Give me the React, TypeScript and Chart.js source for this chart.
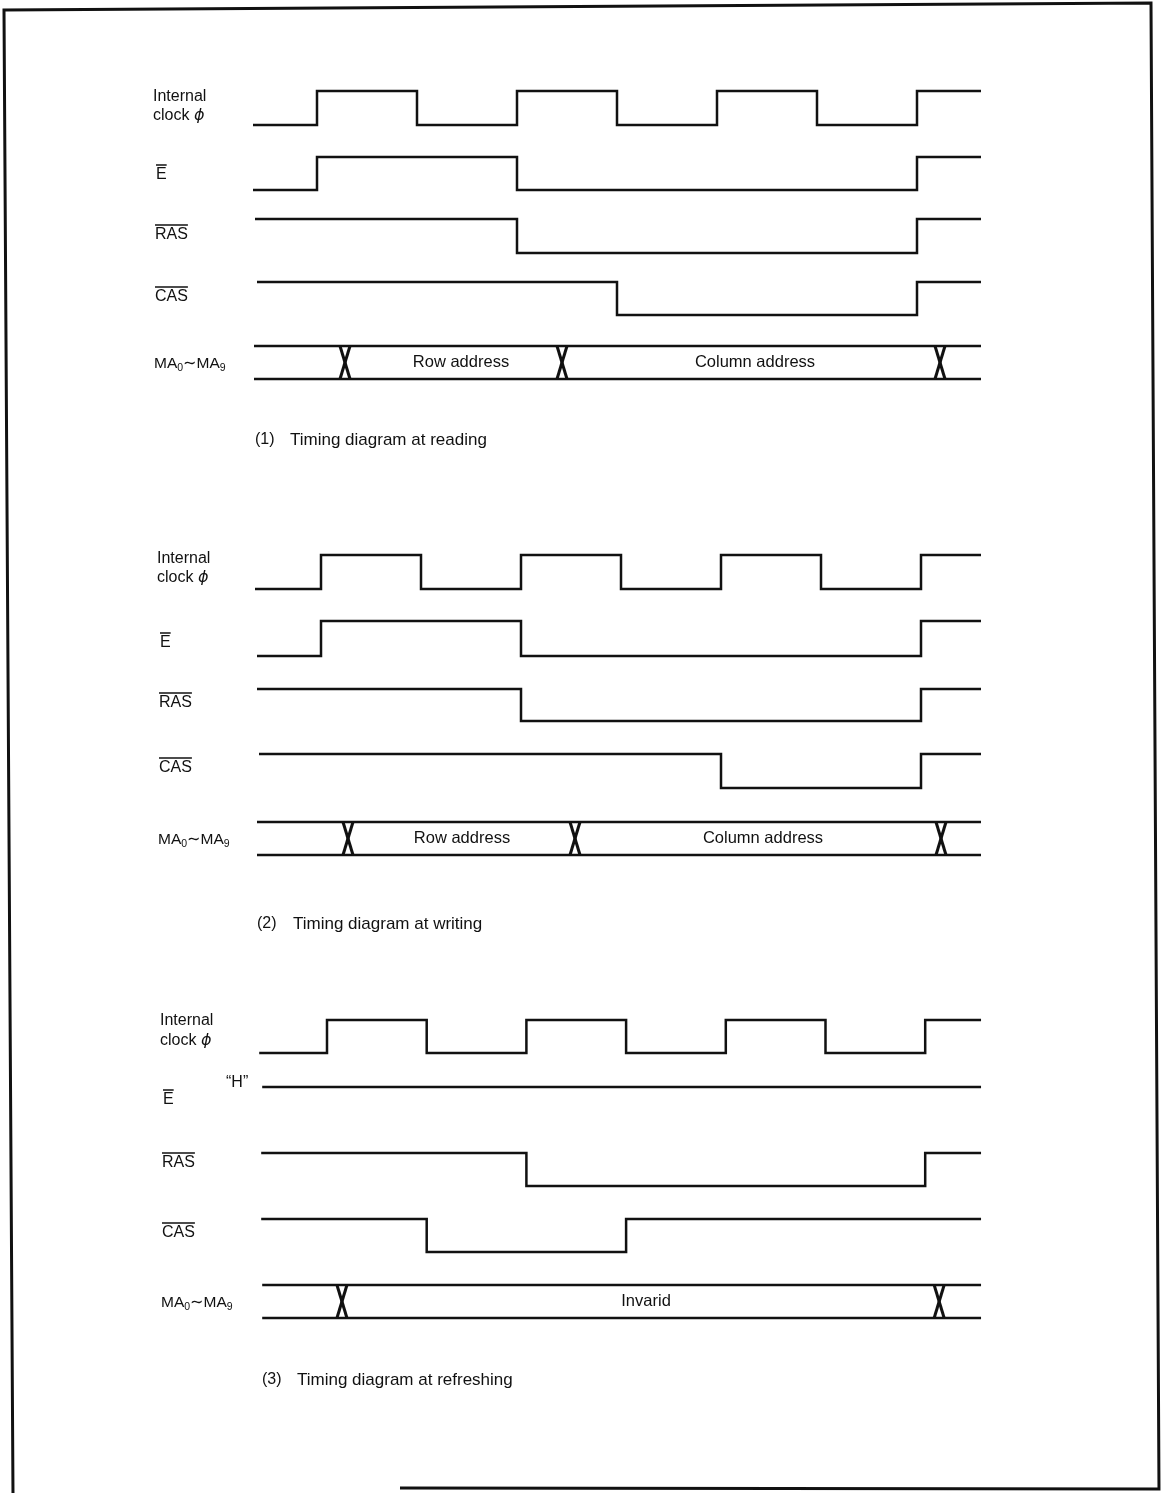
import React, { useEffect, useRef } from "react";
import { Chart, registerables } from "chart.js";
Chart.register(...registerables);

// ---------- DATA (time unit = half clock period, first clock rise at t = 1) ----------
const diagramNumbers = ["(1)", "(2)", "(3)"];
const diagramTitles = ["Timing diagram at reading", "Timing diagram at writing", "Timing diagram at refreshing"];
const signalNames = ["clock", "E", "RAS", "CAS", "MA"];

// Internal clock phi: starts low, toggles at each edge
const clockInit = 0;
const clockEdges = [1, 2, 3, 4, 5, 6, 7];

// (1) reading
const readE = { init: 0, edges: [1, 3, 7] };
const readRAS = { init: 1, edges: [3, 7] };
const readCAS = { init: 1, edges: [4, 7] };
const readBusCross = [1.28, 3.45, 7.23];
const readBusText = ["Row address", "Column address"];
const readBusTextT = [2.44, 5.38];
const readStart = [0.36, 0.36, 0.38, 0.4, 0.37];
const readEnd = 7.64;

// (2) writing
const writeE = { init: 0, edges: [1, 3, 7] };
const writeRAS = { init: 1, edges: [3, 7] };
const writeCAS = { init: 1, edges: [5, 7] };
const writeBusCross = [1.27, 3.54, 7.2];
const writeBusText = ["Row address", "Column address"];
const writeBusTextT = [2.41, 5.42];
const writeStart = [0.34, 0.36, 0.36, 0.38, 0.36];
const writeEnd = 7.6;

// (3) refreshing
const refreshE = { init: 1, edges: [] as number[] }; // held "H"
const refreshRAS = { init: 1, edges: [3, 7] };
const refreshCAS = { init: 1, edges: [2, 4] };
const refreshBusCross = [1.15, 7.14];
const refreshBusText = ["Invarid"];
const refreshBusTextT = [4.2];
const refreshStart = [0.32, 0.35, 0.34, 0.34, 0.35];
const refreshEnd = 7.56;

// ---------- LAYOUT ----------
const W = 1163;
const H = 1493;
// per diagram: pixel of first clock rise, pixels per half period
const xOrigin = [317, 321, 327];
const halfPeriodPx = [100, 100, 99.7];
// per diagram rows: [highY, lowY]
const rowLevels = [
  [[91, 125], [157, 190], [219, 253], [282, 315], [346, 379]],
  [[555, 589], [621, 656], [689, 721], [754, 788], [822, 855]],
  [[1020, 1053], [1087, 1087], [1153, 1186], [1219, 1252], [1285, 1318]],
];
const labelX = [153, 157, 160];
const labelY = [
  [97, 116, 175, 235, 297, 364],
  [559, 578, 643, 703, 768, 840],
  [1021, 1041, 1100, 1163, 1233, 1303],
];
const captionY = [440, 924, 1380];
const captionNumX = [255, 257, 262];
const captionTitleX = [290, 293, 297];

const FONT = "'Liberation Sans', Arial, Helvetica, sans-serif";
const INK = "#111";

function stepPoints(init: number, edges: number[], start: number, end: number, hi: number, lo: number) {
  const lvl = (v: number) => (v ? hi : lo);
  let cur = init;
  const pts = [{ x: start, y: lvl(cur) }];
  for (const e of edges) {
    pts.push({ x: e, y: lvl(cur) });
    cur = 1 - cur;
    pts.push({ x: e, y: lvl(cur) });
  }
  pts.push({ x: end, y: lvl(cur) });
  return pts;
}

const diagrams = [
  { sigs: [readE, readRAS, readCAS], cross: readBusCross, text: readBusText, textT: readBusTextT, start: readStart, end: readEnd },
  { sigs: [writeE, writeRAS, writeCAS], cross: writeBusCross, text: writeBusText, textT: writeBusTextT, start: writeStart, end: writeEnd },
  { sigs: [refreshE, refreshRAS, refreshCAS], cross: refreshBusCross, text: refreshBusText, textT: refreshBusTextT, start: refreshStart, end: refreshEnd },
];

function buildDatasets() {
  const ds: any[] = [];
  const base = { showLine: true, pointRadius: 0, borderColor: INK, borderWidth: 2.5, fill: false, yAxisID: "y" };
  diagrams.forEach((d, di) => {
    const xa = "x" + di;
    const rl = rowLevels[di];
    ds.push({ ...base, label: `${di}-${signalNames[0]}`, xAxisID: xa, data: stepPoints(clockInit, clockEdges, d.start[0], d.end, rl[0][0], rl[0][1]) });
    d.sigs.forEach((s, si) => {
      ds.push({ ...base, label: `${di}-${signalNames[si + 1]}`, xAxisID: xa, data: stepPoints(s.init, s.edges, d.start[si + 1], d.end, rl[si + 1][0], rl[si + 1][1]) });
    });
    const [top, bot] = rl[4];
    ds.push({ ...base, label: `${di}-MA-top`, xAxisID: xa, data: [{ x: d.start[4], y: top }, { x: d.end, y: top }] });
    ds.push({ ...base, label: `${di}-MA-bot`, xAxisID: xa, data: [{ x: d.start[4], y: bot }, { x: d.end, y: bot }] });
    const dt = 5 / halfPeriodPx[di];
    d.cross.forEach((c, ci) => {
      ds.push({ ...base, borderWidth: 3, label: `${di}-X${ci}a`, xAxisID: xa, data: [{ x: c - dt, y: top }, { x: c + dt, y: bot }] });
      ds.push({ ...base, borderWidth: 3, label: `${di}-X${ci}b`, xAxisID: xa, data: [{ x: c + dt, y: top }, { x: c - dt, y: bot }] });
    });
  });
  return ds;
}

function buildScales() {
  const scales: any = {
    y: { type: "linear", display: false, reverse: true, min: 0, max: H },
  };
  xOrigin.forEach((x1, di) => {
    const hp = halfPeriodPx[di];
    const min = 1 - x1 / hp;
    scales["x" + di] = { type: "linear", display: false, min, max: min + W / hp };
  });
  return scales;
}

function overlineText(ctx: CanvasRenderingContext2D, text: string, x: number, y: number, off: number) {
  ctx.fillText(text, x, y);
  const w = ctx.measureText(text).width;
  ctx.beginPath();
  ctx.lineWidth = 1.5;
  ctx.moveTo(x, y - off);
  ctx.lineTo(x + w, y - off);
  ctx.stroke();
}

function busName(ctx: CanvasRenderingContext2D, x: number, y: number) {
  let cx = x;
  ctx.font = `15.5px ${FONT}`;
  ctx.fillText("MA", cx, y);
  cx += ctx.measureText("MA").width;
  ctx.font = `10.5px ${FONT}`;
  ctx.fillText("0", cx, y + 4);
  cx += ctx.measureText("0").width;
  ctx.font = `16px 'DejaVu Sans', ${FONT}`;
  ctx.fillText("∼", cx, y);
  cx += ctx.measureText("∼").width;
  ctx.font = `15.5px ${FONT}`;
  ctx.fillText("MA", cx, y);
  cx += ctx.measureText("MA").width;
  ctx.font = `10.5px ${FONT}`;
  ctx.fillText("9", cx, y + 4);
}

const textPlugin = {
  id: "timingText",
  afterDraw(chart: any) {
    const ctx: CanvasRenderingContext2D = chart.ctx;
    const yS = chart.scales.y;
    ctx.save();
    ctx.fillStyle = INK;
    ctx.strokeStyle = INK;
    ctx.textBaseline = "middle";
    ctx.textAlign = "left";
    diagrams.forEach((d, di) => {
      const xS = chart.scales["x" + di];
      const lx = labelX[di];
      const ly = labelY[di];
      ctx.font = `16px ${FONT}`;
      ctx.fillText("Internal", lx, ly[0]);
      ctx.fillText("clock ", lx, ly[1]);
      const cw = ctx.measureText("clock ").width;
      ctx.font = `italic 16px 'DejaVu Sans', ${FONT}`;
      ctx.fillText("ϕ", lx + cw, ly[1]);
      ctx.font = `16px ${FONT}`;
      overlineText(ctx, "E", lx + 3, ly[2], 10);
      overlineText(ctx, "RAS", lx + 2, ly[3], 10);
      overlineText(ctx, "CAS", lx + 2, ly[4], 10);
      busName(ctx, lx + 1, ly[5]);
      if (di === 2) {
        ctx.font = `16px ${FONT}`;
        ctx.fillText("“H”", 226, yS.getPixelForValue(rowLevels[2][1][0]) - 4);
      }
      // bus labels
      ctx.font = `16.5px ${FONT}`;
      ctx.textAlign = "center";
      const busMid = yS.getPixelForValue((rowLevels[di][4][0] + rowLevels[di][4][1]) / 2);
      d.text.forEach((t, ti) => {
        ctx.fillText(t, xS.getPixelForValue(d.textT[ti]), busMid);
      });
      ctx.textAlign = "left";
      // caption
      ctx.font = `16px ${FONT}`;
      ctx.fillText(diagramNumbers[di], captionNumX[di], captionY[di]);
      ctx.font = `17px ${FONT}`;
      ctx.fillText(diagramTitles[di], captionTitleX[di], captionY[di]);
    });
    // page frame
    ctx.lineWidth = 3;
    ctx.beginPath();
    ctx.moveTo(13, 1493);
    ctx.lineTo(4, 10);
    ctx.lineTo(1151, 3);
    ctx.lineTo(1159, 1489);
    ctx.lineTo(400, 1488);
    ctx.stroke();
    ctx.restore();
  },
};

export default function App() {
  const ref = useRef<HTMLCanvasElement>(null);
  useEffect(() => {
    if (!ref.current) return;
    const chart = new Chart(ref.current, {
      type: "scatter",
      data: { datasets: buildDatasets() },
      options: {
        responsive: false,
        animation: false,
        devicePixelRatio: 1,
        layout: { padding: 0 },
        scales: buildScales(),
        plugins: { legend: { display: false }, tooltip: { enabled: false } },
        events: [],
      },
      plugins: [textPlugin],
    } as any);
    return () => chart.destroy();
  }, []);
  return (
    <div style={{ position: "absolute", left: 0, top: 0, width: W, height: H, background: "#fff" }}>
      <canvas ref={ref} width={W} height={H} style={{ width: W, height: H, display: "block" }} />
    </div>
  );
}
